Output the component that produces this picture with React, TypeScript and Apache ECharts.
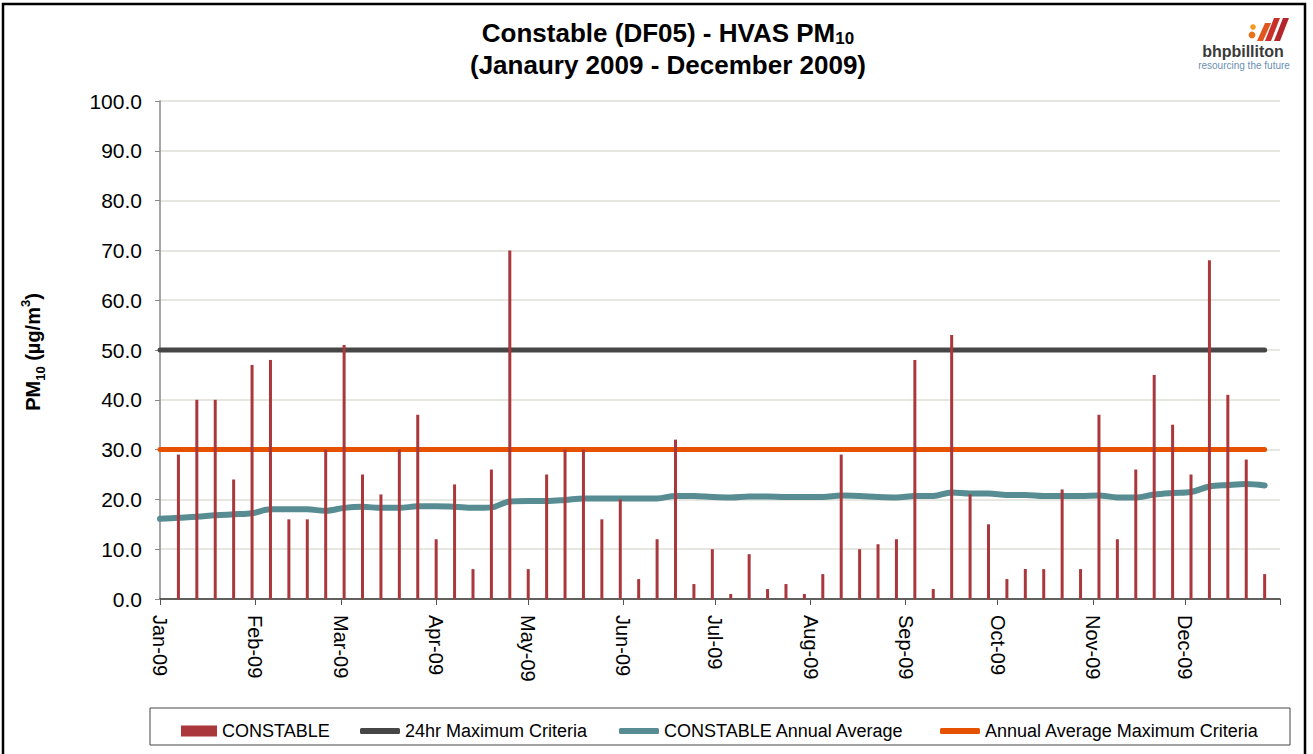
import React, { useEffect, useRef } from 'react';
import * as echarts from 'echarts';

// ---- Data ----
const sampleDates = [
  '2009-01-01', '2009-01-07', '2009-01-13', '2009-01-19', '2009-01-25', '2009-01-31',
  '2009-02-06', '2009-02-12', '2009-02-18', '2009-02-24', '2009-03-02', '2009-03-08',
  '2009-03-14', '2009-03-20', '2009-03-26', '2009-04-01', '2009-04-07', '2009-04-13',
  '2009-04-19', '2009-04-25', '2009-05-01', '2009-05-07', '2009-05-13', '2009-05-19',
  '2009-05-25', '2009-05-31', '2009-06-06', '2009-06-12', '2009-06-18', '2009-06-24',
  '2009-06-30', '2009-07-06', '2009-07-12', '2009-07-18', '2009-07-24', '2009-07-30',
  '2009-08-05', '2009-08-11', '2009-08-17', '2009-08-23', '2009-08-29', '2009-09-04',
  '2009-09-10', '2009-09-16', '2009-09-22', '2009-09-28', '2009-10-04', '2009-10-10',
  '2009-10-16', '2009-10-22', '2009-10-28', '2009-11-03', '2009-11-09', '2009-11-15',
  '2009-11-21', '2009-11-27', '2009-12-03', '2009-12-09', '2009-12-15', '2009-12-21',
  '2009-12-27',
];

const pm10Values: (number | null)[] = [
  null,
  29, 40, 40, 24, 47, 48, 16, 16, 30, 51,
  25, 21, 30, 37, 12, 23, 6, 26, 70, 6,
  25, 30, 30, 16, 20, 4, 12, 32, 3, 10,
  1, 9, 2, 3, 1, 5, 29, 10, 11, 12,
  48, 2, 53, 21, 15, 4, 6, 6, 22, 6,
  37, 12, 26, 45, 35, 25, 68, 41, 28, 5,
];

const annualAverage = [
  16.1,
  16.3, 16.5, 16.8, 17.0, 17.2, 18.0, 18.0, 18.0, 17.7, 18.3,
  18.5, 18.3, 18.3, 18.6, 18.6, 18.5, 18.3, 18.4, 19.6, 19.7,
  19.7, 19.9, 20.2, 20.2, 20.2, 20.2, 20.2, 20.7, 20.7, 20.5,
  20.4, 20.6, 20.6, 20.5, 20.5, 20.5, 20.8, 20.7, 20.5, 20.4,
  20.7, 20.7, 21.4, 21.2, 21.2, 20.9, 20.9, 20.7, 20.7, 20.7,
  20.8, 20.4, 20.4, 21.0, 21.3, 21.5, 22.6, 22.9, 23.1, 22.8,
];

const criteria24hr = 50;
const annualCriteria = 30;

const monthNames = ['Jan', 'Feb', 'Mar', 'Apr', 'May', 'Jun', 'Jul', 'Aug', 'Sep', 'Oct', 'Nov', 'Dec'];
const axisStart = '2009-01-01';
const axisEnd = '2010-01-01';

const seriesNames = ['CONSTABLE', '24hr Maximum Criteria', 'CONSTABLE Annual Average', 'Annual Average Maximum Criteria'];
const colors = ['#A9373B', '#464646', '#578D92', '#E65100'];

function buildDays(start: string, end: string): string[] {
  const out: string[] = [];
  const t0 = Date.parse(start + 'T00:00:00Z');
  const t1 = Date.parse(end + 'T00:00:00Z');
  for (let t = t0; t <= t1; t += 86400000) out.push(new Date(t).toISOString().slice(0, 10));
  return out;
}

const FONT = 'Liberation Sans, Arial, sans-serif';

export default function App() {
  const ref = useRef<HTMLDivElement>(null);

  useEffect(() => {
    document.body.style.margin = '0';
    const chart = echarts.init(ref.current!, null, { renderer: 'svg' });
    const days = buildDays(axisStart, axisEnd);

    const barData = sampleDates
      .map((d, i) => [d, pm10Values[i]])
      .filter((p) => p[1] !== null);

    const legendCommon = {
      top: 717,
      textStyle: { fontSize: 18, fontFamily: FONT, color: '#000' },
      selectedMode: false,
    };

    const option: any = {
      animation: false,
      backgroundColor: '#fff',
      grid: { left: 160, right: 33, top: 101, bottom: 155 },
      legend: [
        { ...legendCommon, left: 176, itemWidth: 36, itemHeight: 11, data: [{ name: seriesNames[0], icon: 'rect' }] },
        { ...legendCommon, left: 355, itemWidth: 40, itemHeight: 6, data: [{ name: seriesNames[1], icon: 'roundRect' }] },
        { ...legendCommon, left: 614, itemWidth: 40, itemHeight: 6, data: [{ name: seriesNames[2], icon: 'roundRect' }] },
        { ...legendCommon, left: 935, itemWidth: 40, itemHeight: 6, data: [{ name: seriesNames[3], icon: 'roundRect' }] },
      ],
      xAxis: {
        type: 'category',
        data: days,
        boundaryGap: false,
        axisLine: { lineStyle: { color: '#333', width: 1.5 } },
        axisTick: {
          length: 6,
          interval: (_i: number, v: string) => v.endsWith('-01'),
          lineStyle: { color: '#555' },
        },
        axisLabel: {
          interval: (_i: number, v: string) => v.endsWith('-01') && v !== axisEnd,
          rotate: -90,
          margin: 16,
          fontSize: 20,
          fontFamily: FONT,
          color: '#000',
          formatter: (v: string) => monthNames[parseInt(v.slice(5, 7), 10) - 1] + '-' + v.slice(2, 4),
        },
        splitLine: { show: false },
      },
      yAxis: {
        type: 'value',
        min: 0,
        max: 100,
        interval: 10,
        axisLine: { show: true, lineStyle: { color: '#888', width: 1.5 } },
        axisTick: { show: true, length: 5, lineStyle: { color: '#888' } },
        axisLabel: {
          margin: 18,
          fontSize: 21,
          fontFamily: FONT,
          color: '#000',
          formatter: (v: number) => v.toFixed(1),
        },
        splitLine: { lineStyle: { color: '#dfdfd8', width: 1.5 } },
      },
      series: [
        {
          name: seriesNames[0],
          type: 'bar',
          data: barData,
          barWidth: 3,
          color: colors[0],
          z: 4,
        },
        {
          name: seriesNames[1],
          type: 'line',
          data: sampleDates.map((d) => [d, criteria24hr]),
          symbol: 'none',
          color: colors[1],
          lineStyle: { width: 5, cap: 'round' },
          z: 2,
        },
        {
          name: seriesNames[2],
          type: 'line',
          data: sampleDates.map((d, i) => [d, annualAverage[i]]),
          symbol: 'none',
          smooth: 0.35,
          color: colors[2],
          lineStyle: { width: 6, cap: 'round' },
          z: 2,
        },
        {
          name: seriesNames[3],
          type: 'line',
          data: sampleDates.map((d) => [d, annualCriteria]),
          symbol: 'none',
          color: colors[3],
          lineStyle: { width: 5, cap: 'round' },
          z: 2,
        },
      ],
      graphic: [
        {
          type: 'rect',
          shape: { x: 3, y: 4, width: 1302, height: 770 },
          style: { fill: 'none', stroke: '#000', lineWidth: 2.5 },
          z: 0,
          silent: true,
        },
        {
          type: 'rect',
          shape: { x: 150, y: 708, width: 1140, height: 37 },
          style: { fill: 'none', stroke: '#444', lineWidth: 1 },
          silent: true,
        },
        {
          type: 'text',
          x: 668,
          y: 33,
          style: {
            text: '{m|Constable (DF05) - HVAS PM}{s|10}',
            rich: {
              m: { fontSize: 26, fontWeight: 'bold', fontFamily: FONT, fill: '#000', lineHeight: 28, verticalAlign: 'middle' },
              s: { fontSize: 17, fontWeight: 'bold', fontFamily: FONT, fill: '#000', lineHeight: 28, verticalAlign: 'bottom' },
            },
            align: 'center',
            verticalAlign: 'middle',
          },
        },
        {
          type: 'text',
          x: 668,
          y: 65,
          style: {
            text: '(Janaury 2009 - December 2009)',
            fontSize: 26,
            fontWeight: 'bold',
            fontFamily: FONT,
            fill: '#000',
            align: 'center',
            verticalAlign: 'middle',
          },
        },
        {
          type: 'text',
          x: 33,
          y: 352,
          rotation: Math.PI / 2,
          style: {
            text: '{m|PM}{s|10}{m| (µg/m}{p|3}{m|)}',
            rich: {
              m: { fontSize: 20, fontWeight: 'bold', fontFamily: FONT, fill: '#000', lineHeight: 28, verticalAlign: 'middle' },
              s: { fontSize: 13, fontWeight: 'bold', fontFamily: FONT, fill: '#000', lineHeight: 28, verticalAlign: 'bottom' },
              p: { fontSize: 13, fontWeight: 'bold', fontFamily: FONT, fill: '#000', lineHeight: 28, verticalAlign: 'top' },
            },
            align: 'center',
            verticalAlign: 'middle',
          },
        },
        // logo
        {
          type: 'group',
          children: [
            { type: 'circle', shape: { cx: 1253, cy: 27, r: 2.8 }, style: { fill: '#F39A1E' } },
            { type: 'circle', shape: { cx: 1252, cy: 35, r: 3.4 }, style: { fill: '#E8731C' } },
            { type: 'polygon', shape: { points: [[1257, 41], [1263, 41], [1271, 23], [1265, 23]] }, style: { fill: '#E0561F' } },
            { type: 'polygon', shape: { points: [[1265, 41], [1271, 41], [1280, 18], [1274, 18]] }, style: { fill: '#C9302C' } },
            { type: 'polygon', shape: { points: [[1274, 41], [1280, 41], [1289, 18], [1283, 18]] }, style: { fill: '#B3242B' } },
            {
              type: 'text',
              x: 1243,
              y: 51,
              style: { text: 'bhpbilliton', fontSize: 16, fontWeight: 'bold', fontFamily: FONT, fill: '#3a3a3a', align: 'center', verticalAlign: 'middle' },
            },
            {
              type: 'text',
              x: 1244,
              y: 65,
              style: { text: 'resourcing the future', fontSize: 10, fontFamily: FONT, fill: '#6b8fb3', align: 'center', verticalAlign: 'middle' },
            },
          ],
        },
      ],
    };

    chart.setOption(option);
    return () => chart.dispose();
  }, []);

  return <div ref={ref} style={{ position: 'absolute', left: 0, top: 0, width: 1313, height: 754 }} />;
}
